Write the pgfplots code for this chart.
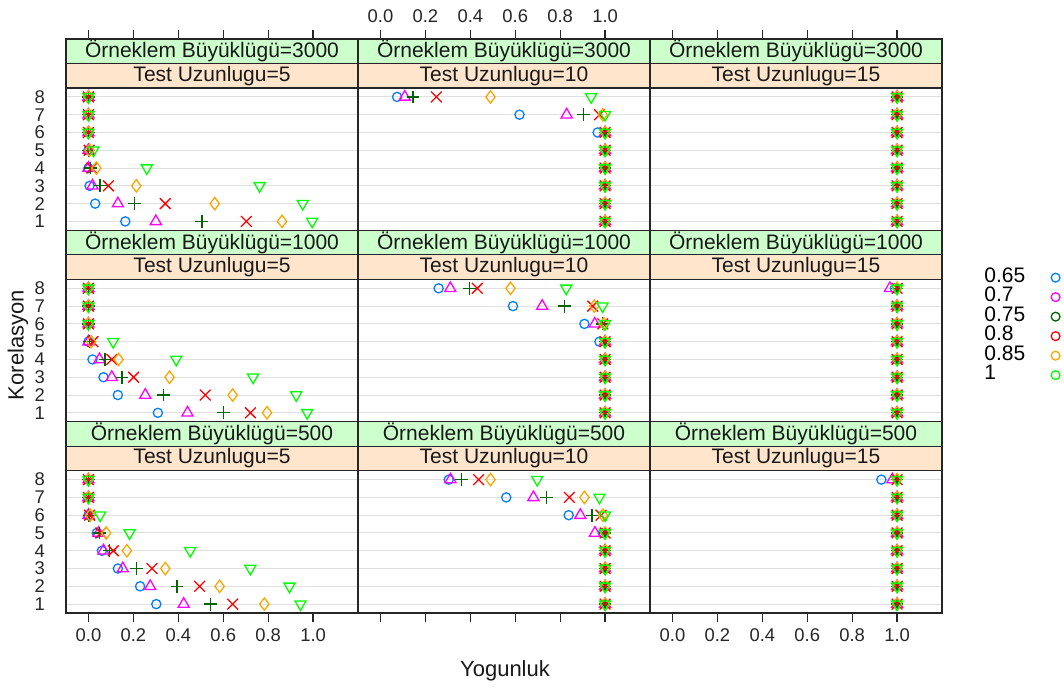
\documentclass[border=0pt]{standalone}
\usepackage{fontspec}
\setmainfont{Liberation Sans}
\usepackage{pgfplots}
\usepackage{pgfplotstable}
\pgfplotsset{compat=1.18}
\usetikzlibrary{plotmarks}

\definecolor{cA}{HTML}{0080FF}
\definecolor{cB}{HTML}{FF00FF}
\definecolor{cC}{HTML}{006400}
\definecolor{cD}{HTML}{FF0000}
\definecolor{cE}{HTML}{FFA500}
\definecolor{cF}{HTML}{00FF00}
\definecolor{stripG}{HTML}{CCFFCC}
\definecolor{stripO}{HTML}{FFE5CC}

% columns: a=0.65 b=0.7 c=0.75 d=0.8 e=0.85 f=1
\pgfplotstableread{
lev a b c d e f
8 0 0 0 0 0 0
7 0 0 0 0 0 0
6 0 0 0 0 0 0
5 0 0 0 0.003 0.005 0.022
4 0 0 0.01 0.015 0.035 0.26
3 0.005 0.018 0.052 0.089 0.213 0.762
2 0.030 0.131 0.204 0.342 0.562 0.954
1 0.164 0.300 0.505 0.703 0.862 0.996
}\tA
\pgfplotstableread{
lev a b c d e f
8 0.074 0.108 0.145 0.249 0.490 0.938
7 0.619 0.829 0.905 0.975 0.990 1
6 0.967 1 1 1 1 1
5 1 1 1 1 1 1
4 1 1 1 1 1 1
3 1 1 1 1 1 1
2 1 1 1 1 1 1
1 1 1 1 1 1 1
}\tB
\pgfplotstableread{
lev a b c d e f
8 1 1 1 1 1 1
7 1 1 1 1 1 1
6 1 1 1 1 1 1
5 1 1 1 1 1 1
4 1 1 1 1 1 1
3 1 1 1 1 1 1
2 1 1 1 1 1 1
1 1 1 1 1 1 1
}\tC
\pgfplotstableread{
lev a b c d e f
8 0 0 0 0 0 0
7 0 0 0 0 0 0
6 0 0 0 0 0 0
5 0 0 0.005 0.02 0.012 0.11
4 0.018 0.049 0.074 0.104 0.134 0.391
3 0.067 0.104 0.149 0.201 0.361 0.733
2 0.131 0.253 0.334 0.520 0.642 0.925
1 0.309 0.441 0.602 0.721 0.795 0.974
}\tD
\pgfplotstableread{
lev a b c d e f
8 0.259 0.311 0.397 0.431 0.579 0.827
7 0.590 0.720 0.819 0.945 0.952 0.989
6 0.908 0.954 0.989 0.990 0.995 1
5 0.975 1 1 1 1 1
4 1 1 1 1 1 1
3 1 1 1 1 1 1
2 1 1 1 1 1 1
1 1 1 1 1 1 1
}\tE
\pgfplotstableread{
lev a b c d e f
8 0.990 0.968 1 1 1 1
7 1 1 1 1 1 1
6 1 1 1 1 1 1
5 1 1 1 1 1 1
4 1 1 1 1 1 1
3 1 1 1 1 1 1
2 1 1 1 1 1 1
1 1 1 1 1 1 1
}\tF
\pgfplotstableread{
lev a b c d e f
8 0 0 0 0 0 0
7 0 0 0 0 0 0
6 0 0 0.003 0.005 0.008 0.052
5 0.037 0.045 0.050 0.055 0.079 0.183
4 0.060 0.067 0.094 0.111 0.171 0.453
3 0.131 0.153 0.213 0.283 0.342 0.721
2 0.230 0.275 0.394 0.495 0.584 0.895
1 0.302 0.424 0.543 0.642 0.783 0.944
}\tG
\pgfplotstableread{
lev a b c d e f
8 0.304 0.312 0.360 0.437 0.490 0.698
7 0.560 0.681 0.740 0.841 0.908 0.975
6 0.838 0.890 0.942 0.982 0.990 1
5 0.990 0.955 1 1 1 1
4 1 1 1 1 1 1
3 1 1 1 1 1 1
2 1 1 1 1 1 1
1 1 1 1 1 1 1
}\tH
\pgfplotstableread{
lev a b c d e f
8 0.930 0.979 1 1 1 1
7 1 1 1 1 1 1
6 1 1 1 1 1 1
5 1 1 1 1 1 1
4 1 1 1 1 1 1
3 1 1 1 1 1 1
2 1 1 1 1 1 1
1 1 1 1 1 1 1
}\tI

\pgfplotsset{
  s1/.style={only marks, mark=o, color=cA, mark size=2.3pt, line width=0.65pt},
  s2/.style={only marks, mark=triangle, color=cB, mark size=3.2pt, line width=0.65pt},
  s3/.style={only marks, mark=+, color=cC, mark size=3.2pt, line width=0.65pt},
  s4/.style={only marks, mark=x, color=cD, mark size=3.8pt, line width=0.65pt},
  s5/.style={only marks, mark=diamond, color=cE, mark size=3.1pt, line width=0.65pt},
  s6/.style={only marks, mark=triangle, mark options={rotate=180}, color=cF, mark size=3.2pt, line width=0.65pt},
  panel/.style={
    scale only axis, anchor=south west,
    width=146pt, height=95.67pt,
    xmin=-0.1, xmax=1.2, ymin=0.5, ymax=11.26,
    ytick={1,2,3,4,5,6,7,8}, yticklabels={},
    xtick={0,0.2,0.4,0.6,0.8,1}, xticklabels={},
    ymajorgrids, major grid style={color=black!12, line width=0.5pt},
    tick align=outside, major tick length=4.5pt,
    ytick style={draw=none}, xtick style={draw=none},
    axis line style={line width=0.6pt, black!85},
    ticklabel style={font=\fontsize{9.2}{10}\selectfont, text=black!85},
    yticklabel style={xshift=-2.5pt},
    clip=false,
  },
  lab/.style={yticklabels={1,2,3,4,5,6,7,8}, ytick pos=left},
  topt/.style={xtick pos=right, xtick style={draw=black!85, line width=0.6pt}},
  bott/.style={xtick pos=left, xtick style={draw=black!85, line width=0.6pt}},
  xlab/.style={xticklabels={0.0,0.2,0.4,0.6,0.8,1.0}},
}

\newcommand{\strips}[2]{%
  \filldraw[fill=stripO, draw=black!85, line width=0.6pt] (axis cs:-0.1,8.5) rectangle (axis cs:1.2,9.88);
  \filldraw[fill=stripG, draw=black!85, line width=0.6pt] (axis cs:-0.1,9.88) rectangle (axis cs:1.2,11.26);
  \node[font=\fontsize{10.5}{12}\selectfont, text=black!90] at (axis cs:0.55,9.19) {#2};
  \node[font=\fontsize{10.5}{12}\selectfont, text=black!90] at (axis cs:0.55,10.57) {#1};
}

\newcommand{\panelplots}[1]{%
  \addplot[s1] table[x=a, y=lev] {#1};
  \addplot[s2] table[x=b, y=lev] {#1};
  \addplot[s3] table[x=c, y=lev] {#1};
  \addplot[s4] table[x=d, y=lev] {#1};
  \addplot[s5] table[x=e, y=lev] {#1};
  \addplot[s6] table[x=f, y=lev] {#1};
}

\begin{document}
\begin{tikzpicture}
\useasboundingbox (0,0) rectangle (532pt,345.5pt);

% top row: n = 3000
\begin{axis}[panel, at={(33pt,230.35pt)}, lab, topt]
\panelplots{\tA}
\strips{Örneklem Büyüklügü=3000}{Test Uzunlugu=5}
\end{axis}
\begin{axis}[panel, at={(179pt,230.35pt)}, topt, xlab]
\panelplots{\tB}
\strips{Örneklem Büyüklügü=3000}{Test Uzunlugu=10}
\end{axis}
\begin{axis}[panel, at={(325pt,230.35pt)}, topt]
\panelplots{\tC}
\strips{Örneklem Büyüklügü=3000}{Test Uzunlugu=15}
\end{axis}

% middle row: n = 1000
\begin{axis}[panel, at={(33pt,134.65pt)}, lab]
\panelplots{\tD}
\strips{Örneklem Büyüklügü=1000}{Test Uzunlugu=5}
\end{axis}
\begin{axis}[panel, at={(179pt,134.65pt)}]
\panelplots{\tE}
\strips{Örneklem Büyüklügü=1000}{Test Uzunlugu=10}
\end{axis}
\begin{axis}[panel, at={(325pt,134.65pt)},
  legend plot pos=right, legend cell align=left,
  legend style={at={(axis description cs:1.123,0.498)}, anchor=west, draw=none, fill=none,
    font=\fontsize{10.5}{11}\selectfont, column sep=13pt, row sep=0pt,
    nodes={inner sep=0pt, text height=7.2pt, text depth=2.55pt}}]
\addlegendimage{only marks, mark=o, color=cA, mark size=2.2pt, line width=0.65pt}
\addlegendimage{only marks, mark=o, color=cB, mark size=2.2pt, line width=0.65pt}
\addlegendimage{only marks, mark=o, color=cC, mark size=2.2pt, line width=0.65pt}
\addlegendimage{only marks, mark=o, color=cD, mark size=2.2pt, line width=0.65pt}
\addlegendimage{only marks, mark=o, color=cE, mark size=2.2pt, line width=0.65pt}
\addlegendimage{only marks, mark=o, color=cF, mark size=2.2pt, line width=0.65pt}
\legend{0.65,0.7,0.75,0.8,0.85,1}
\panelplots{\tF}
\strips{Örneklem Büyüklügü=1000}{Test Uzunlugu=15}
\end{axis}

% bottom row: n = 500
\begin{axis}[panel, at={(33pt,39pt)}, lab, bott, xlab]
\panelplots{\tG}
\strips{Örneklem Büyüklügü=500}{Test Uzunlugu=5}
\end{axis}
\begin{axis}[panel, at={(179pt,39pt)}, bott]
\panelplots{\tH}
\strips{Örneklem Büyüklügü=500}{Test Uzunlugu=10}
\end{axis}
\begin{axis}[panel, at={(325pt,39pt)}, bott, xlab]
\panelplots{\tI}
\strips{Örneklem Büyüklügü=500}{Test Uzunlugu=15}
\end{axis}

\node[rotate=90, font=\fontsize{11}{12}\selectfont, text=black!90] at (9pt,173pt) {Korelasyon};
\node[font=\fontsize{11}{12}\selectfont, text=black!90] at (252.5pt,10pt) {Yogunluk};
\end{tikzpicture}
\end{document}
